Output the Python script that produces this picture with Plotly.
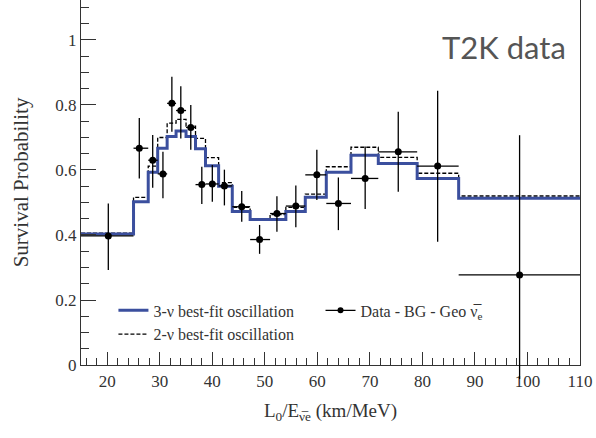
import plotly.graph_objects as go

# Bin edges (km/MeV)
bin_edges = [15, 25, 27.8, 29.6, 31.4, 33.1, 35.0, 36.8, 38.7, 41.2, 43.8, 47.2,
             51.0, 54.0, 57.7, 61.7, 66.4, 71.6, 79.0, 86.9, 110]
# 3-nu best fit survival probability per bin
fit3 = [0.403, 0.502, 0.593, 0.667, 0.703, 0.720, 0.703, 0.665, 0.613, 0.550,
        0.472, 0.448, 0.448, 0.472, 0.516, 0.593, 0.645, 0.620, 0.574, 0.513]
# 2-nu best fit survival probability per bin
fit2 = [0.406, 0.516, 0.612, 0.700, 0.744, 0.756, 0.735, 0.697, 0.638, 0.561,
        0.485, 0.450, 0.463, 0.485, 0.526, 0.610, 0.670, 0.639, 0.590, 0.520]
# Data points
data_x = [20.2, 26.1, 28.65, 30.6, 32.3, 34.0, 35.9, 38.0, 40.0, 42.3, 45.6, 49.0,
          52.3, 55.9, 59.9, 64.0, 69.1, 75.4, 82.9, 98.5]
data_y = [0.397, 0.667, 0.630, 0.588, 0.805, 0.783, 0.731, 0.555, 0.557, 0.551,
          0.487, 0.386, 0.466, 0.489, 0.585, 0.497, 0.574, 0.656, 0.612, 0.277]
err_up = [0.100, 0.093, 0.078, 0.068, 0.082, 0.075, 0.069, 0.055, 0.058, 0.050,
          0.048, 0.045, 0.053, 0.063, 0.077, 0.080, 0.098, 0.123, 0.232, 0.430]
err_dn = [0.105, 0.093, 0.085, 0.075, 0.087, 0.086, 0.069, 0.060, 0.055, 0.060,
          0.046, 0.044, 0.056, 0.065, 0.077, 0.082, 0.094, 0.123, 0.233, 0.320]

x_ticks = [20, 30, 40, 50, 60, 70, 80, 90, 100, 110]
y_ticks = [0, 0.2, 0.4, 0.6, 0.8, 1.0]
y_ticklabels = ["0", "0.2", "0.4", "0.6", "0.8", "1"]

W, H = 596, 438
BOTTOM = 73           # pixels below the x axis line
Y_TOP = 1.123         # value at top edge
PX_PER_UNIT = (H - BOTTOM) / Y_TOP
X_RANGE = [15, 110]

step3 = fit3 + [fit3[-1]]
step2 = fit2 + [fit2[-1]]

ex_minus = [x - lo for x, lo in zip(data_x, bin_edges[:-1])]
ex_plus = [hi - x for x, hi in zip(data_x, bin_edges[1:])]

SERIF = "Liberation Serif, Times New Roman, serif"
BLUE = "#3b4f9e"
DARK = "#333333"

fig = go.Figure()
fig.add_trace(go.Scatter(
    x=bin_edges, y=step2, mode="lines", line_shape="hv",
    line=dict(color="black", width=1.3, dash="4px,2px"),
    name="2-ν best-fit oscillation", legend="legend", legendrank=2, legendgroup="b"))
fig.add_trace(go.Scatter(
    x=bin_edges, y=step3, mode="lines", line_shape="hv",
    line=dict(color=BLUE, width=3),
    name="3-ν best-fit oscillation", legend="legend", legendrank=1, legendgroup="a"))
n = len(data_x) - 1
fig.add_trace(go.Scatter(
    x=data_x[:n], y=data_y[:n], mode="markers",
    marker=dict(color="black", size=7),
    error_y=dict(type="data", symmetric=False, array=err_up[:n], arrayminus=err_dn[:n],
                 color="black", thickness=1.3, width=0),
    error_x=dict(type="data", symmetric=False, array=ex_plus[:n], arrayminus=ex_minus[:n],
                 color="black", thickness=1.3, width=0),
    showlegend=False))
# last point on an overlay subplot spanning the full height so its error bar passes the axis
fig.add_trace(go.Scatter(
    x=data_x[n:], y=data_y[n:], mode="markers", xaxis="x2", yaxis="y2",
    marker=dict(color="black", size=7),
    error_y=dict(type="data", symmetric=False, array=err_up[n:], arrayminus=err_dn[n:],
                 color="black", thickness=1.3, width=0),
    error_x=dict(type="data", symmetric=False, array=ex_plus[n:], arrayminus=ex_minus[n:],
                 color="black", thickness=1.3, width=0),
    showlegend=False))
fig.add_trace(go.Scatter(
    x=[None], y=[None], mode="lines+markers",
    line=dict(color="black", width=1.3), marker=dict(color="black", size=6),
    name="Data - BG - Geo ν̅<sub>e</sub>", legend="legend2"))

dom0 = BOTTOM / H

fig.update_layout(
    width=W, height=H,
    margin=dict(l=81, r=16, t=0, b=0, autoexpand=False),
    paper_bgcolor="white", plot_bgcolor="rgba(0,0,0,0)",
    font=dict(family=SERIF, color=DARK, size=16),
    xaxis=dict(
        range=X_RANGE, tickvals=x_ticks, ticks="inside", ticklen=13, anchor="y",
        automargin=False,
        tickcolor=DARK, tickwidth=1, showgrid=False, zeroline=False,
        showline=True, linecolor=DARK, linewidth=1.3, mirror=False,
        minor=dict(dtick=2, tick0=0, ticks="inside", ticklen=7, tickcolor=DARK, showgrid=False),
        tickfont=dict(size=17),
        title=dict(text="L<sub>0</sub>/E<sub>ν̅e</sub> (km/MeV)", font=dict(size=19), standoff=14),
    ),
    yaxis=dict(
        domain=[dom0, 1], range=[0, Y_TOP], tickvals=y_ticks, ticktext=y_ticklabels,
        anchor="x", automargin=False,
        ticks="inside", ticklen=15, tickcolor=DARK, tickwidth=1, showgrid=False,
        zeroline=False, showline=True, linecolor=DARK, linewidth=1.3, mirror=True,
        minor=dict(dtick=0.05, tick0=0, ticks="inside", ticklen=8, tickcolor=DARK, showgrid=False),
        tickfont=dict(size=17),
        title=dict(text="Survival Probability", font=dict(size=21), standoff=20),
    ),
    xaxis2=dict(range=X_RANGE, anchor="y2", visible=False, showgrid=False, zeroline=False),
    yaxis2=dict(domain=[0, 1], anchor="x2", range=[-BOTTOM / PX_PER_UNIT, Y_TOP],
                visible=False, showgrid=False, zeroline=False),
    legend=dict(x=0.065, y=0.33, xanchor="left", yanchor="top", bgcolor="rgba(0,0,0,0)",
                font=dict(family=SERIF, size=16, color=DARK), tracegroupgap=15,
                itemwidth=30, traceorder="normal"),
    legend2=dict(x=0.48, y=0.33, xanchor="left", yanchor="top", bgcolor="rgba(0,0,0,0)",
                 font=dict(family=SERIF, size=16, color=DARK), itemwidth=30),
    annotations=[dict(text="T2K data", xref="paper", yref="paper", x=0.975, y=0.892,
                      xanchor="right", yanchor="middle", showarrow=False,
                      font=dict(family="Lato, Open Sans, sans-serif", size=31, color="#555555"))],
)

fig.write_html("out.html")
